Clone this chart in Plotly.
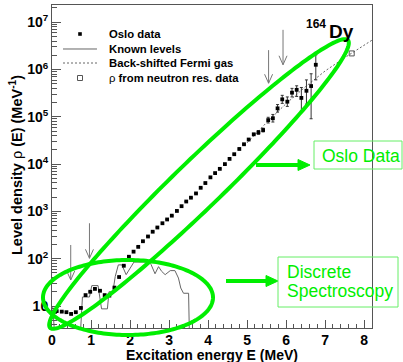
import numpy as np
import plotly.graph_objects as go

# ---------------- data ----------------
# Oslo method level density of 164Dy
oslo_E = [0.12, 0.25, 0.37, 0.49, 0.61, 0.74, 0.86, 0.98, 1.10, 1.23,
          1.35, 1.47, 1.60, 1.72, 1.84, 1.97, 2.09, 2.21, 2.33, 2.46,
          2.58, 2.70, 2.83, 2.95, 3.07, 3.20, 3.32, 3.44, 3.56, 3.69,
          3.81, 3.93, 4.06, 4.18, 4.30, 4.43, 4.55, 4.67, 4.80, 4.92,
          5.04, 5.17, 5.29, 5.41, 5.54, 5.66, 5.78, 5.90, 6.03, 6.15,
          6.27, 6.39, 6.52, 6.64, 6.76]
oslo_rho = [7.8, 7.6, 7.4, 6.8, 7.4, 9.1, 17, 20, 23, 21,
            17, 16.6, 24.5, 41, 71, 110, 141, 178, 234, 295,
            372, 457, 562, 676, 813, 1023, 1290, 1620, 1950, 2400,
            3160, 3980, 5250, 6460, 7940, 10000, 12900, 16200, 20900, 26300,
            33100, 42700, 46800, 52500, 85100, 93300, 151000, 234000, 209000, 324000,
            372000, 251000, 355000, 447000, 1260000]
oslo_err_up = [0] * 42 + [4500, 5000, 12600, 18900, 30500, 50600, 54100, 75500,
                          80400, 166000, 248000, 366000, 784000]
oslo_err_dn = [0] * 42 + [4100, 4600, 11000, 15700, 25400, 41600, 43000, 60600,
                          102700, 119000, 169000, 356000, 656000]

# Density of known discrete levels
known_E = [0.02, 0.10, 0.70, 0.78, 0.96, 1.02, 1.18, 1.22, 1.27, 1.42,
           1.46, 1.56, 1.62, 1.70, 1.79, 1.90, 2.00, 2.10, 2.48, 2.54,
           2.64, 2.73, 2.81, 2.90, 3.03, 3.15, 3.24, 3.30, 3.37, 3.50, 3.53]
known_rho = [9.5, 1, 1, 15.5, 15.5, 27, 27, 16, 8.7, 8.7,
             20, 20, 42, 74, 74, 46, 63, 85, 85, 75,
             48, 68, 54, 46, 56, 56, 39, 24, 18.6, 18.6, 1]

# Back-shifted Fermi gas
bsfg_E = [5.0, 5.5, 6.0, 6.5, 7.0, 7.5, 8.2]
bsfg_rho = [28200, 75900, 190500, 436500, 933000, 1780000, 4170000]

# Level density from neutron resonance spacing
nres_E = [7.68]
nres_rho = [2190000]

# Arrows marking points of interest (E, rho at tail, rho at tip)
arrow_E = [0.48, 0.96, 5.55, 5.92]
arrow_rho_top = [195, 562, 2.57e6, 6.9e6]
arrow_rho_tip = [35.5, 102, 5.13e5, 1.26e6]

x_ticks = [0, 1, 2, 3, 4, 5, 6, 7, 8]
y_tickvals = [10, 1e2, 1e3, 1e4, 1e5, 1e6, 1e7]
y_ticktext = ["10", "10<sup>2</sup>", "10<sup>3</sup>", "10<sup>4</sup>",
              "10<sup>5</sup>", "10<sup>6</sup>", "10<sup>7</sup>"]

# ---------------- layout geometry ----------------
W, H = 403, 362
L, R, T, B = 52, 31, 5, 34
PW, PH = W - L - R, H - T - B
XR = [0.0, 8.2]
YR = [0.535, 7.364]
FONT = "Liberation Sans, Arial, sans-serif"
GREEN = "#00ee00"
GRAY = "#777777"


def pxp(px, py):
    """pixel position -> paper coordinates"""
    return (px - L) / PW, (H - B - py) / PH


def dxp(e, rho):
    """data position -> paper coordinates"""
    return (e - XR[0]) / (XR[1] - XR[0]), (np.log10(rho) - YR[0]) / (YR[1] - YR[0])


def ppath(points, close=False):
    s = ""
    for i, (px, py) in enumerate(points):
        x, y = pxp(px, py)
        s += ("M" if i == 0 else "L") + f"{x:.5f},{y:.5f} "
    return s + ("Z" if close else "")


def ellipse_path(cx, cy, a, b, ang_deg):
    t = np.linspace(0, 2 * np.pi, 200)
    ang = np.deg2rad(ang_deg)
    xs = cx + a * np.cos(t) * np.cos(ang) - b * np.sin(t) * np.sin(ang)
    ys = cy - (a * np.cos(t) * np.sin(ang) + b * np.sin(t) * np.cos(ang))
    return ppath(list(zip(xs, ys)), close=True)


fig = go.Figure()

fig.add_trace(go.Scatter(
    x=known_E, y=known_rho, mode="lines",
    line=dict(color="#666666", width=1), showlegend=False))

fig.add_trace(go.Scatter(
    x=bsfg_E, y=bsfg_rho, mode="lines",
    line=dict(color="#666666", width=1, dash="2px,2px"), showlegend=False))

fig.add_trace(go.Scatter(
    x=oslo_E, y=oslo_rho, mode="markers",
    marker=dict(symbol="square", size=3.8, color="black"),
    error_y=dict(type="data", symmetric=False, array=oslo_err_up,
                 arrayminus=oslo_err_dn, color="#333333", thickness=1, width=1.5),
    showlegend=False))

fig.add_trace(go.Scatter(
    x=nres_E, y=nres_rho, mode="markers",
    marker=dict(symbol="square-open", size=5, color="#555555", line=dict(width=1)),
    showlegend=False))

shapes = []
annotations = []

# gray arrows with open heads
for e, r0, r1 in zip(arrow_E, arrow_rho_top, arrow_rho_tip):
    x0, y0 = dxp(e, r0)
    x1, y1 = dxp(e, r1)
    shapes.append(dict(type="line", xref="paper", yref="paper",
                       x0=x0, y0=y0, x1=x1, y1=y1,
                       line=dict(color=GRAY, width=1)))
    hx, hy = 4 / PW, 9 / PH
    shapes.append(dict(type="path", xref="paper", yref="paper",
                       path=f"M{x1-hx:.5f},{y1+hy:.5f} L{x1:.5f},{y1:.5f} L{x1+hx:.5f},{y1+hy:.5f}",
                       line=dict(color=GRAY, width=1)))

# legend
leg_rows = [34, 49, 63, 78]
leg_text = ["Oslo data", "Known levels", "Back-shifted Fermi gas",
            "<span style='font-weight:normal'>ρ</span> from neutron res. data"]
x0, y0 = pxp(78.2, leg_rows[0] - 1.8)
x1, y1 = pxp(81.8, leg_rows[0] + 1.8)
shapes.append(dict(type="rect", xref="paper", yref="paper", x0=x0, y0=y0, x1=x1, y1=y1,
                   fillcolor="black", line=dict(width=0)))
shapes.append(dict(type="path", xref="paper", yref="paper",
                   path=ppath([(63, leg_rows[1]), (97, leg_rows[1])]),
                   line=dict(color="#666666", width=1)))
shapes.append(dict(type="path", xref="paper", yref="paper",
                   path=ppath([(63, leg_rows[2]), (97, leg_rows[2])]),
                   line=dict(color="#666666", width=1, dash="2px,2px")))
x0, y0 = pxp(77.5, leg_rows[3] - 2.5)
x1, y1 = pxp(82.5, leg_rows[3] + 2.5)
shapes.append(dict(type="rect", xref="paper", yref="paper", x0=x0, y0=y0, x1=x1, y1=y1,
                   line=dict(color="#555555", width=1)))
for row, txt in zip(leg_rows, leg_text):
    x, y = pxp(107, row)
    annotations.append(dict(xref="paper", yref="paper", x=x, y=y, text=txt,
                            xanchor="left", yanchor="middle", showarrow=False,
                            font=dict(family=FONT, size=11.3, color="black", weight="bold")))

# nucleus label
x, y = pxp(328, 24)
annotations.append(dict(xref="paper", yref="paper", x=x, y=y, text="164",
                        xanchor="right", yanchor="middle", showarrow=False,
                        font=dict(family=FONT, size=12, color="black", weight="bold")))
x, y = pxp(327, 32)
annotations.append(dict(xref="paper", yref="paper", x=x, y=y, text="Dy",
                        xanchor="left", yanchor="middle", showarrow=False,
                        font=dict(family=FONT, size=19, color="black", weight="bold")))

# axis titles
x, y = pxp(212, 355)
annotations.append(dict(xref="paper", yref="paper", x=x, y=y,
                        text="Excitation energy E (MeV)",
                        xanchor="center", yanchor="middle", showarrow=False,
                        font=dict(family=FONT, size=14, color="black", weight="bold")))
x, y = pxp(16, 165)
annotations.append(dict(xref="paper", yref="paper", x=x, y=y,
                        text="Level density <span style='font-weight:normal'>ρ</span> (E) (MeV<sup>-1</sup>)",
                        textangle=-90, xanchor="center", yanchor="middle", showarrow=False,
                        font=dict(family=FONT, size=14.5, color="black", weight="bold")))

# green highlight ellipses
shapes.append(dict(type="path", xref="paper", yref="paper",
                   path=ellipse_path(199, 184, 207, 24, 44.0),
                   line=dict(color=GREEN, width=4)))
shapes.append(dict(type="path", xref="paper", yref="paper",
                   path=ellipse_path(128, 297.5, 85, 37.5, 0.0),
                   line=dict(color=GREEN, width=4)))

# green pointer arrows
for (xa, xb, yy) in [(256, 300, 165), (226, 268, 281)]:
    shapes.append(dict(type="path", xref="paper", yref="paper",
                       path=ppath([(xa, yy), (xb, yy)]),
                       line=dict(color=GREEN, width=4)))
    shapes.append(dict(type="path", xref="paper", yref="paper",
                       path=ppath([(xb - 2, yy - 5.5), (xb + 10, yy), (xb - 2, yy + 5.5)], close=True),
                       fillcolor=GREEN, line=dict(color=GREEN, width=1)))

# green text boxes
for (bx0, by0, bx1, by1) in [(314, 141, 402, 169), (278, 257, 398, 307)]:
    x0, y0 = pxp(bx0, by1)
    x1, y1 = pxp(bx1, by0)
    shapes.append(dict(type="rect", xref="paper", yref="paper", x0=x0, y0=y0, x1=x1, y1=y1,
                       line=dict(color="#66ee66", width=1)))
for txt, px, py in [("Oslo Data", 320, 155.5), ("Discrete", 285, 271.5),
                    ("Spectroscopy", 285, 291)]:
    x, y = pxp(px, py)
    annotations.append(dict(xref="paper", yref="paper", x=x, y=y, text=txt,
                            xanchor="left", yanchor="middle", showarrow=False,
                            font=dict(family=FONT, size=17.5, color=GREEN)))

y_minor = [m * 10 ** d for d in range(0, 8) for m in range(2, 10)]

fig.update_layout(
    width=W, height=H,
    margin=dict(l=L, r=R, t=T, b=B),
    paper_bgcolor="white", plot_bgcolor="white",
    showlegend=False,
    shapes=shapes, annotations=annotations,
    xaxis=dict(range=XR, tickvals=x_ticks, ticks="inside", ticklen=8, tickwidth=1,
               tickcolor="#555555", showgrid=False, zeroline=False,
               showline=True, mirror=True, linecolor="#555555", linewidth=1,
               ticklabelstandoff=-1,
               tickfont=dict(family=FONT, size=14, color="black", weight="bold"),
               minor=dict(dtick=0.2, tick0=0, ticks="inside", ticklen=4.5,
                          tickcolor="#555555", showgrid=False)),
    yaxis=dict(type="log", range=YR, tickvals=y_tickvals, ticktext=y_ticktext,
               ticks="inside", ticklen=9, tickwidth=1, tickcolor="#555555",
               showgrid=False, zeroline=False,
               showline=True, mirror=True, linecolor="#555555", linewidth=1,
               tickfont=dict(family=FONT, size=14, color="black", weight="bold"),
               minor=dict(tickvals=y_minor, ticks="inside", ticklen=5,
                          tickcolor="#555555", showgrid=False)),
)

fig.write_html("out.html")
